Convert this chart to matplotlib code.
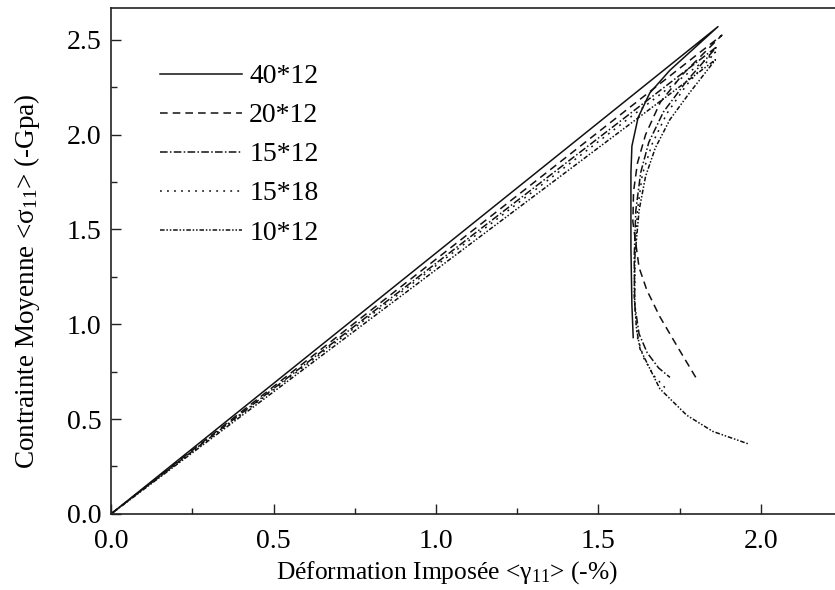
import matplotlib.pyplot as plt
from matplotlib.ticker import MultipleLocator

plt.rcParams["font.family"] = ["Liberation Serif", "DejaVu Serif"]
plt.rcParams["mathtext.fontset"] = "custom"
plt.rcParams["mathtext.rm"] = "Liberation Serif"
plt.rcParams["mathtext.it"] = "Liberation Serif"

LABELS = ["40*12", "20*12", "15*12", "15*18", "10*12"]

# strain (-%) / mean stress (-GPa)
x_40x12 = [0, 1.868, 1.72, 1.658, 1.622, 1.603, 1.600, 1.600, 1.603, 1.607]
y_40x12 = [0, 2.57, 2.34, 2.22, 2.09, 1.94, 1.80, 1.40, 1.10, 0.93]

x_20x12 = [0, 1.88, 1.76, 1.69, 1.645, 1.62, 1.608, 1.606, 1.625, 1.649, 1.689, 1.742, 1.803]
y_20x12 = [0, 2.525, 2.32, 2.17, 2.00, 1.85, 1.70, 1.54, 1.30, 1.18, 1.04, 0.885, 0.71]

x_15x12 = [0, 1.865, 1.77, 1.70, 1.655, 1.63, 1.615, 1.61, 1.612, 1.625, 1.65, 1.685, 1.72]
y_15x12 = [0, 2.465, 2.28, 2.12, 1.96, 1.80, 1.60, 1.35, 1.10, 0.95, 0.85, 0.77, 0.72]

x_15x18 = [0, 1.86, 1.77, 1.71, 1.665, 1.635, 1.62, 1.612, 1.612, 1.62, 1.64, 1.67, 1.705]
y_15x18 = [0, 2.435, 2.26, 2.11, 1.95, 1.79, 1.60, 1.35, 1.10, 0.93, 0.82, 0.73, 0.665]

x_10x12 = [0, 1.86, 1.78, 1.72, 1.675, 1.645, 1.625, 1.612, 1.61, 1.617, 1.628, 1.689, 1.772, 1.852, 1.96]
y_10x12 = [0, 2.395, 2.22, 2.08, 1.93, 1.78, 1.60, 1.35, 1.15, 0.98, 0.87, 0.66, 0.52, 0.435, 0.37]

series = [(x_40x12, y_40x12), (x_20x12, y_20x12), (x_15x12, y_15x12),
          (x_15x18, y_15x18), (x_10x12, y_10x12)]
styles = [
    "-",
    (0, (5, 3.3)),
    (0, (5, 1.5, 1, 1.5)),
    (0, (1.2, 3.4)),
    (0, (3, 1.2, 1, 1.2, 1, 1.2)),
]

fig = plt.figure(figsize=(8.35, 5.9), dpi=100)
# the right spine lies past the picture's edge, as in the scanned original
ax = fig.add_axes([0.133, 0.129, 0.895, 0.858])

for (xs, ys), lab, ls in zip(series, LABELS, styles):
    ax.plot(xs, ys, color="#111111", linestyle=ls, linewidth=1.1, label=lab)

ax.set_xlim(0, 2.3)
ax.set_ylim(0, 2.67)
ax.xaxis.set_major_locator(MultipleLocator(0.5))
ax.xaxis.set_minor_locator(MultipleLocator(0.25))
ax.yaxis.set_major_locator(MultipleLocator(0.5))
ax.yaxis.set_minor_locator(MultipleLocator(0.25))
ax.xaxis.set_major_formatter(lambda v, p: f"{v:.1f}")
ax.yaxis.set_major_formatter(lambda v, p: f"{v:.1f}")
ax.tick_params(which="both", direction="in", labelsize=20, color="#222222")
ax.tick_params(which="major", length=7, width=1.0)
ax.tick_params(which="minor", length=4, width=1.0)
ax.tick_params(axis="y", pad=7)
ax.tick_params(axis="x", pad=11)
for s in ax.spines.values():
    s.set_linewidth(1.2)
    s.set_color("#222222")

ax.set_xlabel("Déformation Imposée <$\\mathrm{γ}_{11}$> (-%)", fontsize=18.4)
ax.set_ylabel("Contrainte Moyenne <$\\mathrm{σ}_{11}$> (-Gpa)", fontsize=19.5)
ax.xaxis.set_label_coords(1.035 / 2.3, -0.089)
ax.yaxis.set_label_coords(-0.092, 0.46)

ax.legend(loc="upper left", bbox_to_anchor=(0.051, 0.911), frameon=False, fontsize=20,
          handlelength=2.95, handletextpad=0.25, labelspacing=0.49,
          borderaxespad=0.0)

fig.savefig("out.png", dpi=100)
